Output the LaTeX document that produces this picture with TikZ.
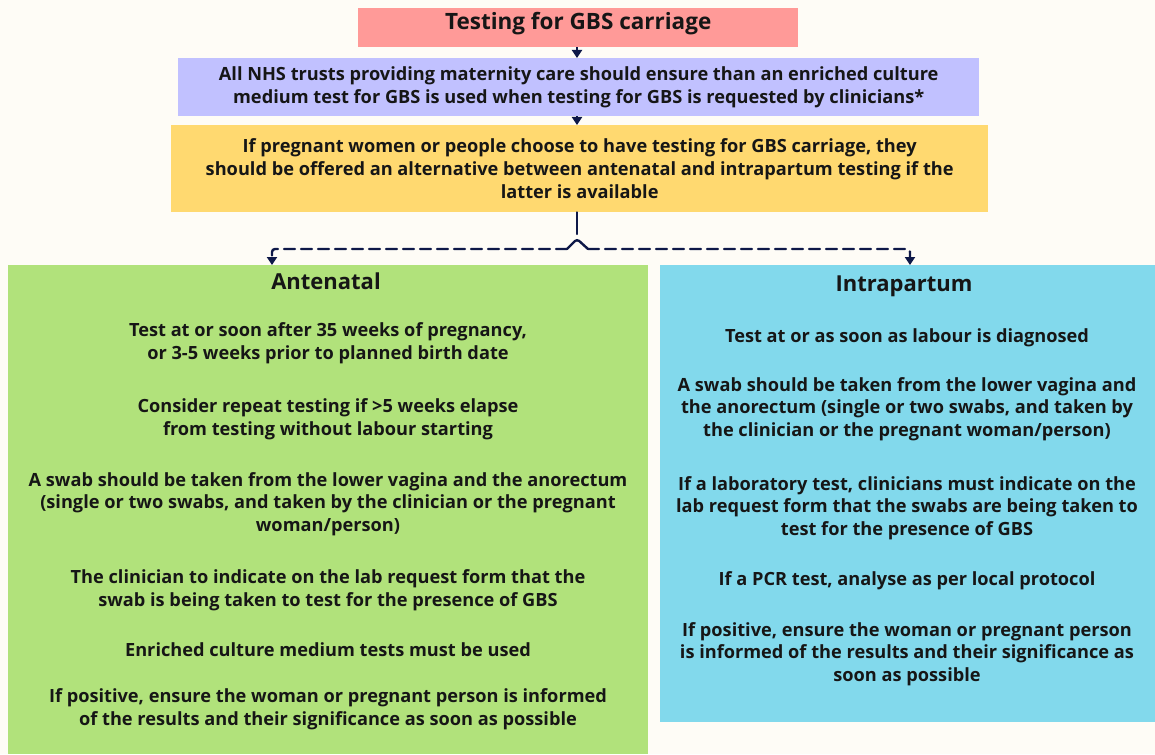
\documentclass[tikz,border=0pt]{standalone}
\usepackage{fontspec}
\setmainfont{Open Sans}
\usetikzlibrary{positioning,arrows.meta,calc}
\definecolor{gbspaper}{HTML}{FEFCF6}
\definecolor{gbsred}{HTML}{FF9A98}
\definecolor{gbslilac}{HTML}{C1C1FF}
\definecolor{gbsgold}{HTML}{FFD970}
\definecolor{gbsgreen}{HTML}{B1E27B}
\definecolor{gbssky}{HTML}{82D9EC}
\definecolor{gbsnavy}{HTML}{0E1848}
\definecolor{gbsink}{HTML}{161616}
\tikzset{
    box/.style={anchor=north west,inner sep=0pt,text=gbsink,align=center,font=\bfseries\fontsize{18.2}{23}\selectfont},
    head/.style={text=gbsink,font=\bfseries\fontsize{22}{26}\selectfont},
    para/.style={text=gbsink,align=center,font=\bfseries\fontsize{18.2}{22.6}\selectfont},
    flow/.style={draw=gbsnavy,line width=2.2pt,-{Triangle[length=8pt,width=10pt]}},
    split/.style={draw=gbsnavy,line width=2.4pt,line cap=round,rounded corners=3pt},
    dashlink/.style={split,dash pattern=on 11pt off 6pt},
}

\begin{document}
\begin{tikzpicture}[x=1pt,y=-1pt]
    \useasboundingbox[fill=gbspaper] (0,0) rectangle (1155,754);
    \node[box,fill=gbsred,minimum width=440pt,minimum height=39pt,text depth=13pt,font=\bfseries\fontsize{22.5}{26}\selectfont] (title) at (358,8) {Testing for GBS carriage};
    \node[box,fill=gbslilac,minimum width=801pt,minimum height=58pt] (nhs) at (178,58) {All NHS trusts providing maternity care should ensure than an enriched culture\\medium test for GBS is used when testing for GBS is requested by clinicians*};
    \node[box,fill=gbsgold,minimum width=817pt,minimum height=87pt] (offer) at (171,125) {If pregnant women or people choose to have testing for GBS carriage, they\\should be offered an alternative between antenatal and intrapartum testing if the\\latter is available};
    \node[box,fill=gbsgreen,minimum width=640pt,minimum height=489pt] (ante) at (8,265) {};
    \node[box,fill=gbssky,minimum width=495pt,minimum height=457pt] (intra) at (660,265) {};

    \draw[flow] (title.south -| 577,0) -- (nhs.north -| 577,0);
    \draw[flow] (nhs.south -| 577,0) -- (offer.north -| 577,0);

    \coordinate (cl) at (567,249);
    \coordinate (cr) at (588,249);
    \coordinate (lt) at (272,249);
    \coordinate (rt) at (910,249);
    \draw[split,rounded corners=0pt] (offer.south -| 577,0) -- (577,234);
    \draw[split] (cl) -- (577,239) -- (cr);
    \draw[dashlink,-{Triangle[length=8pt,width=10pt]}] (cl) -- (lt) -- (lt |- ante.north);
    \draw[dashlink,-{Triangle[length=8pt,width=10pt]}] (cr) -- (rt) -- (rt |- intra.north);

    \node[head] (antehead) at (326,281) {Antenatal};
    \node[para] (a1) at (328,343) {Test at or soon after 35 weeks of pregnancy,\\or 3-5 weeks prior to planned birth date};
    \node[para] (a2) at (328,419) {Consider repeat testing if >5 weeks elapse\\from testing without labour starting};
    \node[para] (a3) at (328,504) {A swab should be taken from the lower vagina and the anorectum\\(single or two swabs, and taken by the clinician or the pregnant\\woman/person)};
    \node[para] (a4) at (328,590) {The clinician to indicate on the lab request form that the\\swab is being taken to test for the presence of GBS};
    \node[para] (a5) at (328,650) {Enriched culture medium tests must be used};
    \node[para] (a6) at (328,709) {If positive, ensure the woman or pregnant person is informed\\of the results and their significance as soon as possible};

    \node[head] (intrahead) at (904,286) {Intrapartum};
    \node[para] (b1) at (907,338) {Test at or as soon as labour is diagnosed};
    \node[para] (b2) at (907,409) {A swab should be taken from the lower vagina and\\the anorectum (single or two swabs, and taken by\\the clinician or the pregnant woman/person)};
    \node[para] (b3) at (907,508) {If a laboratory test, clinicians must indicate on the\\lab request form that the swabs are being taken to\\test for the presence of GBS};
    \node[para] (b4) at (907,581) {If a PCR test, analyse as per local protocol};
    \node[para] (b5) at (907,654) {If positive, ensure the woman or pregnant person\\is informed of the results and their significance as\\soon as possible};
\end{tikzpicture}
\end{document}
